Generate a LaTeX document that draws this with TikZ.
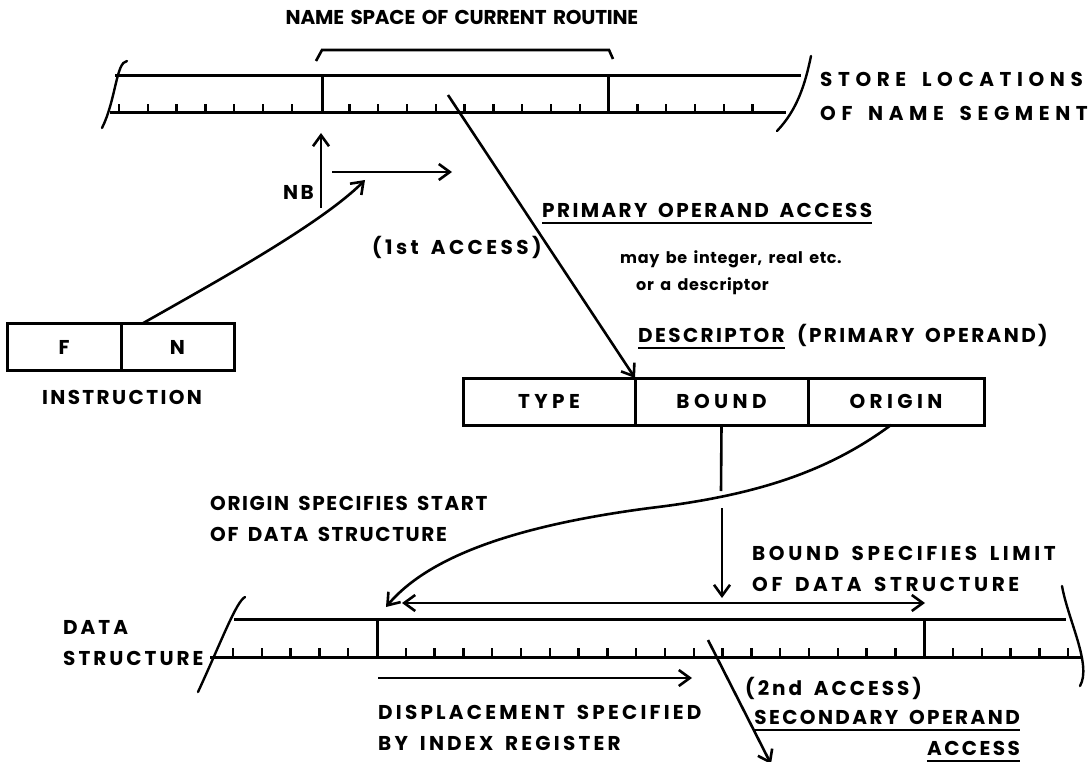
\documentclass[tikz,border=0pt]{standalone}
\usepackage{fontspec}
\setmainfont{Poppins}[WordSpace=1.6]
\usetikzlibrary{arrows.meta, positioning}
\newcommand\lblfont{\fontsize{20}{31}\selectfont\bfseries}
\newcommand\smallfont{\fontsize{16}{27}\selectfont\bfseries}

\begin{document}
\begin{tikzpicture}[
  x=1pt, y=-1pt,
  >={Straight Barb[length=11pt,width=16pt]},
  lbl/.style   = {font=\lblfont\addfontfeature{LetterSpace=#1}, inner sep=0pt},
  lbl/.default = 12,
  small/.style = {font=\smallfont\addfontfeature{LetterSpace=4}, inner sep=0pt},
  cell/.style  = {draw, line width=3pt, minimum height=47pt,
                  inner sep=0pt, outer sep=0pt,
                  font=\lblfont\addfontfeature{LetterSpace=22}},
  strip/.style = {line width=3pt},
  tick/.style  = {line width=2.4pt},
  edge/.style  = {line width=2.4pt, line cap=round},
  arr/.style   = {->, line width=2.6pt},
  dbl/.style   = {<->, line width=2.6pt},
  uline/.style = {line width=2pt},
]
\useasboundingbox (0,0) rectangle (1089,762);

% =============================================
% NAME SEGMENT (top strip)
% =============================================
\draw[strip] (115,76) -- (801,76);
\draw[strip] (110,113) -- (786,113);
\draw[strip] (322,76) -- (322,113);
\draw[strip] (608,76) -- (608,113);
\foreach \k in {0,...,22}
  {\ifnum\k=7 \else\ifnum\k=17 \else
     \draw[tick] (119+28.8*\k,113) -- ++(0,-9);
   \fi\fi}
\draw[edge] (127,61) .. controls (116,62) and (116,100) .. (102,128);
\draw[edge] (811,56) .. controls (805,85) and (797,110) .. (777,131);
\draw[strip, line width=2.6pt] (316,61) -- (322,50) -- (609,50) -- (613,59);

\node[lbl=-1, anchor=base] (title) at (462,25) {NAME SPACE OF CURRENT ROUTINE};
\node[lbl=28, anchor=west, align=left] (storelbl) at (820,96)
  {STORE LOCATIONS\\[3pt]OF NAME SEGMENT};

\coordinate (nsaddr) at (448,95);
\coordinate (nbfoot) at (321,208);
\coordinate (nbtop)  at (321,133);
\coordinate (nboff)  at (332,172);
\coordinate (nbend)  at (452,172);
\coordinate (nbin)   at (365,180);

\draw[arr] (nbfoot) -- (nbtop);
\draw[arr] (nboff) -- (nbend);
\node[lbl, anchor=east] (nb) at (314,192) {NB};

% =============================================
% INSTRUCTION
% =============================================
\node[cell, minimum width=114pt] (fcell) at (64,347) {F};
\node[cell, minimum width=113pt, right=0pt of fcell] (ncell) {N};
\node[lbl, anchor=base] (instlbl) at (122,404) {INSTRUCTION};
\draw[arr] ([xshift=-35pt]ncell.north) .. controls (210,285) and (320,225) .. (nbin);

% =============================================
% DESCRIPTOR
% =============================================
\node[cell, minimum width=172pt] (type) at (549,401.5) {TYPE};
\node[cell, minimum width=173pt, right=0pt of type]  (bound)  {BOUND};
\node[cell, minimum width=176pt, right=0pt of bound] (origin) {ORIGIN};

\draw[arr] (nsaddr) -- (bound.north west);

\node[lbl, anchor=base west] (primlbl)  at (542,217) {PRIMARY OPERAND ACCESS};
\draw[uline] ([yshift=-6pt]primlbl.base west) -- ([yshift=-6pt]primlbl.base east);
\node[lbl=17, anchor=base west] (firstacc) at (372,254) {(1st ACCESS)};
\node[small, anchor=base west] (maybe)    at (620,263) {may be integer, real etc.};
\node[small, anchor=base west] (ordesc)   at (636,290) {or a descriptor};
\node[lbl, anchor=base west] (desclbl)  at (638,342) {DESCRIPTOR};
\node[lbl, anchor=base west] (descsub)  at ([xshift=12pt]desclbl.base east) {(PRIMARY OPERAND)};
\draw[uline] ([yshift=-6pt]desclbl.base west) -- ([yshift=-6pt]desclbl.base east);

% =============================================
% DATA STRUCTURE (bottom strip)
% =============================================
\draw[strip] (234,619) -- (1066,619);
\draw[strip] (210,657) -- (1082,657);
\draw[strip] (377,619) -- (377,657);
\draw[strip] (924,619) -- (924,657);
\foreach \k in {0,...,29}
  {\ifnum\k=5 \else\ifnum\k=24 \else
     \draw[tick] (233+28.8*\k,657) -- ++(0,-9);
   \fi\fi}
\draw[edge] (245,597) .. controls (236,602) and (222,640) .. (198,692);
\draw[edge] (1062,586) .. controls (1068,620) and (1092,665) .. (1080,686);

\coordinate (bgap1)  at (721,491);
\coordinate (bgap2)  at (722,508);
\coordinate (limtop) at (722,598);
\coordinate (dsorg)  at (386,607);
\coordinate (lim1)   at (402,603);
\coordinate (lim2)   at (925,603);
\coordinate (disp1)  at (378,678);
\coordinate (disp2)  at (692,678);
\coordinate (secfrom) at (708,640);
\coordinate (secto)   at (771,764);

\draw[line width=2.6pt] (bound.south) -- (bgap1);
\draw[arr] (bgap2) -- (limtop);
\draw[arr] ([xshift=-5pt]origin.south) .. controls (830,470) and (760,495) .. (650,508)
  .. controls (520,525) and (430,555) .. (dsorg);
\draw[dbl] (lim1) -- (lim2);
\draw[arr] (disp1) -- (disp2);
\draw[arr] (secfrom) -- (secto);

\node[lbl=8, anchor=west, align=left] (originlbl) at (210,519) {ORIGIN SPECIFIES START\\OF DATA STRUCTURE};
\node[lbl=18, anchor=west, align=left] (boundlbl)  at (752,569) {BOUND SPECIFIES LIMIT\\OF DATA STRUCTURE};
\node[lbl=15, anchor=west, align=left] (dslbl)     at (63,643)  {DATA\\STRUCTURE};
\node[lbl=16, anchor=west, align=left] (displbl)   at (378,728) {DISPLACEMENT SPECIFIED\\BY INDEX REGISTER};
\node[lbl=15, anchor=base west] (secondacc) at (745,695) {(2nd ACCESS)};
\node[lbl, anchor=base east] (seclbl) at (1020,724) {SECONDARY OPERAND};
\node[lbl, anchor=base east] (secacc) at (1020,755) {ACCESS};
\draw[uline] ([yshift=-6pt]seclbl.base west) -- ([yshift=-6pt]seclbl.base east);
\draw[uline] ([yshift=-6pt]secacc.base west) -- ([yshift=-6pt]secacc.base east);

\end{tikzpicture}
\end{document}
